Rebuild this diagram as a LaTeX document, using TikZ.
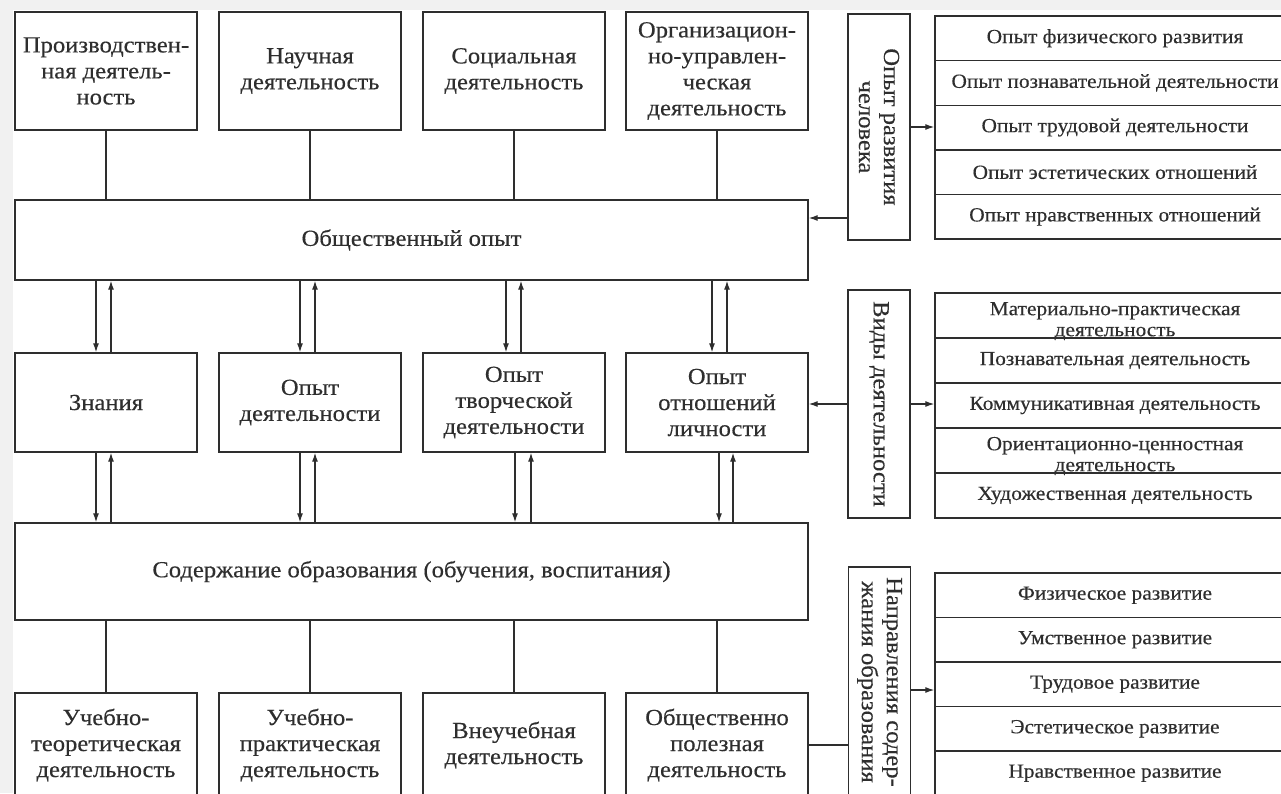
\documentclass[tikz,border=0pt]{standalone}
\usepackage{fontspec}
\setmainfont{Liberation Serif}[FakeStretch=1.07,FakeBold=0.35]
\usetikzlibrary{arrows.meta,calc}
\definecolor{ink}{HTML}{2E2E2E}
\definecolor{bgpat}{HTML}{F1F1F1}
\newcommand\pairarrows[5]{%
  \draw[arr] ($(#1 |- #2.south)+(#4,0)$) -- ($(#1 |- #3.north)+(#4,0)$);
  \draw[arr] ($(#1 |- #3.north)+(#5,0)$) -- ($(#1 |- #2.south)+(#5,0)$);}
\newcommand\lowtwo[2]{\raisebox{-6pt}[\height][\depth]{\begin{tabular}{@{}c@{}}#1\\#2\end{tabular}}}
\begin{document}
\begin{tikzpicture}[x=1pt,y=-1pt,
  box/.style={draw=ink, line width=1.4pt, text=ink, align=center, inner sep=2pt,
    font=\fontsize{23}{26}\selectfont},
  topbox/.style={box, minimum width=182pt, minimum height=118pt},
  midbox/.style={box, minimum width=182pt, minimum height=99pt},
  botbox/.style={box, minimum width=182pt, minimum height=104pt},
  widebox/.style={box, minimum width=793pt},
  vbox/.style={draw=ink, line width=1.4pt, minimum width=62pt},
  vtext/.style={rotate=-90, align=center, text=ink, font=\fontsize{23}{25}\selectfont},
  lrow/.style={draw=ink, line width=1.4pt, text=ink, align=center, inner sep=0pt,
    minimum width=360pt, font=\fontsize{20}{21}\selectfont},
  conn/.style={draw=ink, line width=1.3pt},
  arr/.style={draw=ink, line width=1.2pt, -{Latex[length=9pt,width=6pt]}}
]
\useasboundingbox (0,0) rectangle (1281,793);
\fill[bgpat] (0,0) rectangle (1281,793);
\fill[white] (13,10) rectangle (1281,793);

% top row
\node[topbox] (t1) at (106,71) {Производствен-\\ная деятель-\\ность};
\node[topbox] (t2) at (310,71) {Научная\\деятельность};
\node[topbox] (t3) at (514,71) {Социальная\\деятельность};
\node[topbox] (t4) at (717,71) {Организацион-\\но-управлен-\\ческая\\деятельность};

\node[widebox, minimum height=80pt] (ob) at (411.5,240) {Общественный опыт};

% middle row
\node[midbox] (m1) at (106,402.5) {Знания};
\node[midbox] (m2) at (310,402.5) {Опыт\\деятельности};
\node[midbox] (m3) at (514,402.5) {Опыт\\творческой\\деятельности};
\node[midbox] (m4) at (717,402.5) {Опыт\\отношений\\личности};

\node[widebox, minimum height=97pt] (sod) at (411.5,571.5) {Содержание образования (обучения, воспитания)};

% bottom row
\node[botbox] (b1) at (106,745) {Учебно-\\теоретическая\\деятельность};
\node[botbox] (b2) at (310,745) {Учебно-\\практическая\\деятельность};
\node[botbox] (b3) at (514,745) {Внеучебная\\деятельность};
\node[botbox] (b4) at (717,745) {Общественно\\полезная\\деятельность};

% connectors
\foreach \i in {1,...,4}{
  \draw[conn] (t\i.south) -- (t\i.south |- ob.north);
  \draw[conn] (sod.south -| b\i.north) -- (b\i.north);
}
\pairarrows{m1.center}{ob}{m1}{-10}{5}
\pairarrows{m2.center}{ob}{m2}{-10}{5}
\pairarrows{m3.center}{ob}{m3}{-8}{7}
\pairarrows{m4.center}{ob}{m4}{-5}{10}
\pairarrows{m1.center}{m1}{sod}{-10}{5}
\pairarrows{m2.center}{m2}{sod}{-10}{5}
\pairarrows{m3.center}{m3}{sod}{1}{17}
\pairarrows{m4.center}{m4}{sod}{2}{16}

% right block 1
\node[vbox, minimum height=226pt] (v1) at (879,127) {};
\node[vtext] at (v1) {Опыт развития\\человека};
\node[lrow, minimum height=44.6pt] (l11) at (1115,38.3) {Опыт физического развития};
\node[lrow, minimum height=44.6pt] (l12) at (1115,82.9) {Опыт познавательной деятельности};
\node[lrow, minimum height=44.6pt] (l13) at (1115,127.5) {Опыт трудовой деятельности};
\node[lrow, minimum height=44.6pt] (l14) at (1115,172.1) {Опыт эстетических отношений};
\node[lrow, minimum height=44.6pt] (l15) at (1115,216.7) {Опыт нравственных отношений};
\draw[arr] ($(v1.west)+(0,91)$) coordinate (a1) -- (a1 -| ob.east);
\draw[arr] (v1.east) -- (v1.east -| l13.west);

% right block 2
\node[vbox, minimum height=228pt] (v2) at (879,404) {};
\node[vtext] at (v2) {Виды деятельности};
\node[lrow, minimum height=45pt] (l21) at (1115,315.5) {\lowtwo{Материально-практическая}{деятельность}};
\node[lrow, minimum height=45pt] (l22) at (1115,360.5) {Познавательная деятельность};
\node[lrow, minimum height=45pt] (l23) at (1115,405.5) {Коммуникативная деятельность};
\node[lrow, minimum height=45pt] (l24) at (1115,450.5) {\lowtwo{Ориентационно-ценностная}{деятельность}};
\node[lrow, minimum height=45pt] (l25) at (1115,495.5) {Художественная деятельность};
\draw[arr] (v2.west) -- (v2.west -| m4.east);
\draw[arr] (v2.east) -- (v2.east -| l23.west);

% right block 3
\node[vbox, minimum height=230pt] (v3) at (879.5,682) {};
\node[vtext] at (v3) {Направления содер-\\жания образования};
\node[lrow, minimum height=44.5pt] (l31) at (1115,595.25) {Физическое развитие};
\node[lrow, minimum height=44.5pt] (l32) at (1115,639.75) {Умственное развитие};
\node[lrow, minimum height=44.5pt] (l33) at (1115,684.25) {Трудовое развитие};
\node[lrow, minimum height=44.5pt] (l34) at (1115,728.75) {Эстетическое развитие};
\node[lrow, minimum height=44.5pt] (l35) at (1115,773.25) {Нравственное развитие};
\draw[conn] (b4.east) -- (b4.east -| v3.west);
\draw[arr] ($(v3.east)+(0,8)$) coordinate (a3) -- (a3 -| l33.west);
\end{tikzpicture}
\end{document}
